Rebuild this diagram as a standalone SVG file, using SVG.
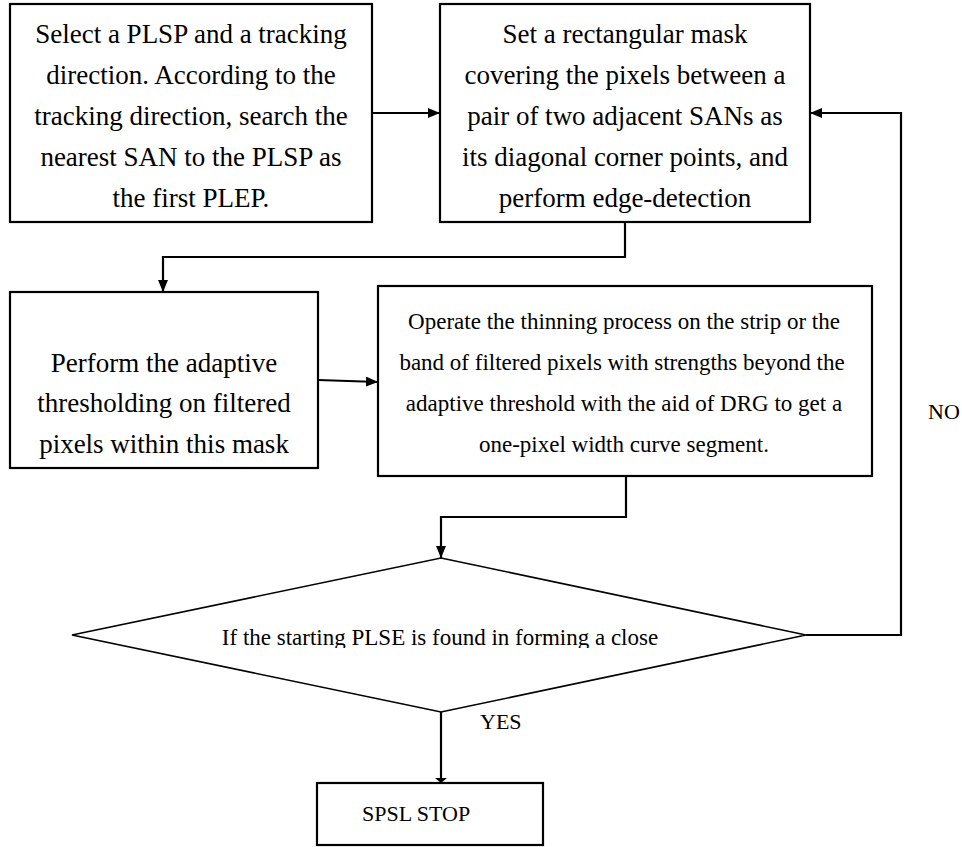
<svg xmlns="http://www.w3.org/2000/svg" width="962" height="847" viewBox="0 0 962 847">
  <style>
    .box { fill: #fff; stroke: #000; stroke-width: 2.2; }
    .dia { fill: #fff; stroke: #000; stroke-width: 1.6; }
    .big { font-family: "Liberation Serif", "Times New Roman", serif; font-size: 27px; fill: #000; text-anchor: middle; }
    .mid { font-family: "Liberation Serif", "Times New Roman", serif; font-size: 23px; fill: #000; text-anchor: middle; }
    .lbl { font-family: "Liberation Serif", "Times New Roman", serif; font-size: 22px; fill: #000; }
    .con { fill: none; stroke: #000; stroke-width: 2.2; }
  </style>
  <defs>
    <marker id="arr" viewBox="0 0 12 10" refX="12" refY="5" markerWidth="12" markerHeight="10" orient="auto" markerUnits="userSpaceOnUse">
      <path d="M0,0 L12,5 L0,10 z" fill="#000"/>
    </marker>
    <marker id="arrSmall" viewBox="0 0 5 12" refX="5" refY="6" markerWidth="5" markerHeight="12" orient="auto" markerUnits="userSpaceOnUse">
      <path d="M0,0 L5,6 L0,12 z" fill="#000"/>
    </marker>
    <clipPath id="diaClip">
      <rect x="0" y="0" width="962" height="648"/>
    </clipPath>
  </defs>

  <rect width="962" height="847" fill="#fff"/>

  <g id="connectors">
    <line class="con" x1="372" y1="113" x2="440" y2="113" marker-end="url(#arr)"/>
    <polyline class="con" points="625,222 625,257 163,257 163,292" marker-end="url(#arr)"/>
    <line class="con" x1="318" y1="380" x2="378" y2="382" marker-end="url(#arr)"/>
    <polyline class="con" points="626,476 626,517 441,517 441,558" marker-end="url(#arr)"/>
    <polyline class="con" points="806,635 901,635 901,113 810,113" marker-end="url(#arr)"/>
    <line class="con" x1="441" y1="712" x2="441" y2="783" marker-end="url(#arrSmall)"/>
    <text class="lbl" x="928" y="419">NO</text>
    <text class="lbl" x="480" y="729">YES</text>
  </g>

  <g id="node-select">
    <rect class="box" x="10" y="4" width="362" height="218"/>
    <text class="big" x="191" y="43">Select a PLSP and a tracking</text>
    <text class="big" x="191" y="84">direction. According to the</text>
    <text class="big" x="191" y="125">tracking direction, search the</text>
    <text class="big" x="191" y="166">nearest SAN to the PLSP as</text>
    <text class="big" x="191" y="207">the first PLEP.</text>
  </g>

  <g id="node-mask">
    <rect class="box" x="440" y="4" width="370" height="218"/>
    <text class="big" x="625" y="43">Set a rectangular mask</text>
    <text class="big" x="625" y="84">covering the pixels between a</text>
    <text class="big" x="625" y="125">pair of two adjacent SANs as</text>
    <text class="big" x="625" y="166">its diagonal corner points, and</text>
    <text class="big" x="625" y="207">perform edge-detection</text>
  </g>

  <g id="node-threshold">
    <rect class="box" x="10" y="292" width="308" height="176"/>
    <text class="big" x="164" y="372">Perform the adaptive</text>
    <text class="big" x="164" y="412">thresholding on filtered</text>
    <text class="big" x="164" y="453">pixels within this mask</text>
  </g>

  <g id="node-thinning">
    <rect class="box" x="378" y="286" width="494" height="190"/>
    <text class="mid" x="624" y="329">Operate the thinning process on the strip or the</text>
    <text class="mid" x="622" y="370">band of filtered pixels with strengths beyond the</text>
    <text class="mid" x="624" y="411">adaptive threshold with the aid of DRG to get a</text>
    <text class="mid" x="624" y="452">one-pixel width curve segment.</text>
  </g>

  <g id="node-decision">
    <polygon class="dia" points="441,558 806,635 441,712 72,635"/>
    <text class="mid" x="440" y="645" clip-path="url(#diaClip)">If the starting PLSE is found in forming a close</text>
  </g>

  <g id="node-stop">
    <rect class="box" x="317" y="783" width="226" height="62"/>
    <text class="lbl" x="362" y="821">SPSL STOP</text>
  </g>
</svg>
